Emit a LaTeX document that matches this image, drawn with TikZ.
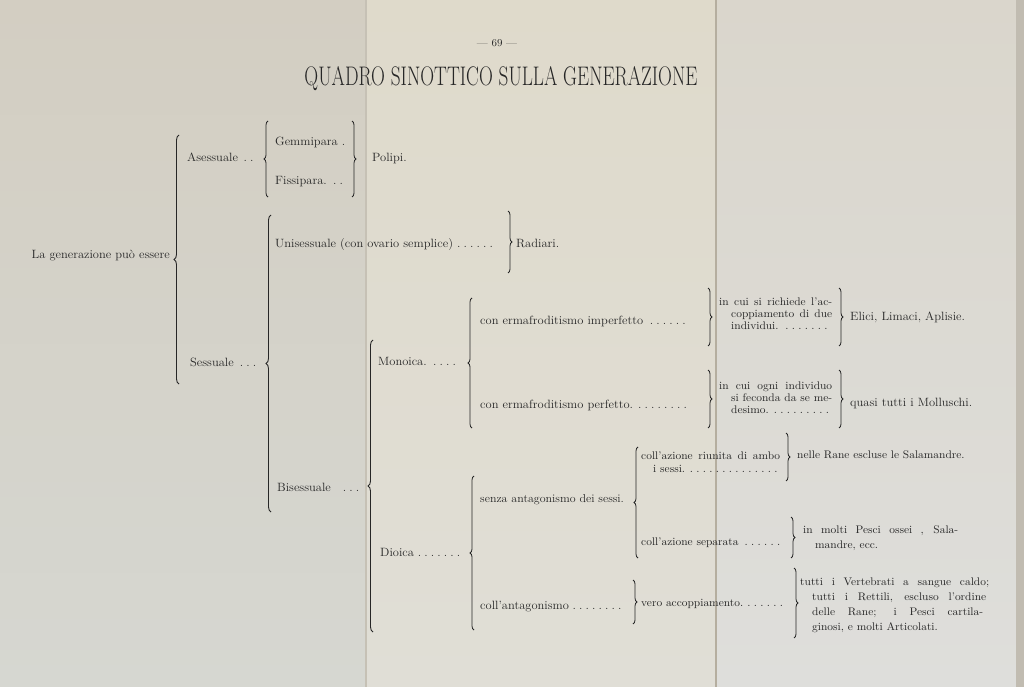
\documentclass[tikz,border=0pt]{standalone}
\usepackage{fontspec}
\setmainfont{Latin Modern Roman}[FakeStretch=1.04]
\usetikzlibrary{decorations.pathreplacing}
\definecolor{ink}{HTML}{262626}
\definecolor{pageLt}{HTML}{D3CEC2}
\definecolor{pageLb}{HTML}{D6D7D1}
\definecolor{pageMt}{HTML}{DFDACB}
\definecolor{pageMb}{HTML}{E0DED6}
\definecolor{pageRt}{HTML}{DAD6CC}
\definecolor{pageRb}{HTML}{DEDEDB}
\definecolor{foldc}{HTML}{B5AE9F}
\newcommand{\myldr}[2]{\makebox[#2][l]{#1\hskip 2pt\cleaders\hbox to 6.5pt{\hss.\hss}\hfill}}
\newcommand{\myjust}[2]{\makebox[#2][s]{#1}}
\tikzset{
  txt/.style={font=\fontsize{12}{14}\selectfont, text=ink, inner sep=0pt, anchor=base west},
  txte/.style={txt, anchor=base east},
  small/.style={font=\fontsize{11}{13}\selectfont, text=ink, inner sep=0pt, anchor=base west},
  br/.style={draw=ink, line width=0.8pt, decorate, decoration={brace, amplitude=4pt}},
  bigbr/.style={br, line width=0.9pt, decoration={brace, amplitude=5pt}},
}
\begin{document}
\begin{tikzpicture}[x=1pt,y=-1pt]
\useasboundingbox (0,0) rectangle (1024,687);
% paper
\shade[top color=pageLt, bottom color=pageLb] (0,0) rectangle (366,687);
\shade[top color=pageMt, bottom color=pageMb] (366,0) rectangle (716,687);
\shade[top color=pageRt, bottom color=pageRb] (716,0) rectangle (1024,687);
\draw[foldc!60!pageMb, line width=1.5pt] (366,0) -- (366,687);
\draw[foldc, line width=1.2pt] (716,0) -- (716,687);
\fill[foldc!70!pageRb] (1016,0) rectangle (1024,687);

% header
\node[font=\fontsize{10.5}{12}\selectfont, text=ink, inner sep=0pt, anchor=base] (pg) at (497,47) {— 69 —};
\node[text=ink, inner sep=0pt, anchor=base] (title) at (501,86)
  {\resizebox{393pt}{19pt}{\fontsize{20}{22}\selectfont QUADRO SINOTTICO SULLA GENERAZIONE}};

% level 0
\node[txte] (gen) at (170,258) {La generazione può essere};
% level 1
\node[txt] (ases) at (187,161) {\myldr{Asessuale}{70pt}};
\node[txt] (sess) at (190,366) {\myldr{Sessuale}{70pt}};
% asessuale
\node[txt] (gemm) at (275,146) {Gemmipara .};
\node[txt] (fiss) at (275,185) {\myldr{Fissipara.}{72pt}};
\node[txt] (poli) at (372,161) {Polipi.};
% sessuale
\node[txt] (unis) at (275,247) {\myldr{Unisessuale (con ovario semplice)}{220pt}};
\node[txt] (radi) at (516,247) {Radiari.};
\node[txt] (bise) at (277,491) {\myldr{Bisessuale\ \ }{84pt}};
\node[txt] (mono) at (378,365) {\myldr{Monoica.}{82pt}};
\node[txt] (dioi) at (380,556) {\myldr{Dioica}{82pt}};
% monoica
\node[txt] (imp) at (480,324) {\myldr{con ermafroditismo imperfetto}{210pt}};
\node[txt] (perf) at (480,408) {\myldr{con ermafroditismo perfetto.}{210pt}};
\node[small] (d1a) at (719,305) {\myjust{in cui si richiede l’ac-}{113pt}};
\node[small] (d1b) at (731,317) {\myjust{coppiamento di due}{101pt}};
\node[small] (d1c) at (731,329) {\myldr{individui.}{101pt}};
\node[txt] (elici) at (850,320) {Elici, Limaci, Aplisie.};
\node[small] (d2a) at (719,389) {\myjust{in cui ogni individuo}{113pt}};
\node[small] (d2b) at (731,401) {\myjust{si feconda da se me-}{101pt}};
\node[small] (d2c) at (731,413) {\myldr{desimo.}{101pt}};
\node[txt] (quasi) at (850,406) {quasi tutti i Molluschi.};
% dioica
\node[txt, font=\fontsize{11.5}{14}\selectfont] (senza) at (480,502) {senza antagonismo dei sessi.};
\node[txt] (colla) at (480,609) {\myldr{coll’antagonismo}{143pt}};
\node[small] (riua) at (641,459) {\myjust{coll’azione riunita di ambo}{139pt}};
\node[small] (riub) at (653,472) {\myldr{i sessi.}{127pt}};
\node[small] (rane) at (797,458) {nelle Rane escluse le Salamandre.};
\node[small] (sepa) at (641,545) {\myldr{coll’azione separata}{143pt}};
\node[small] (mola) at (803,533) {\myjust{in molti Pesci ossei , Sala-}{155pt}};
\node[small] (molb) at (815,548) {mandre, ecc.};
\node[small] (vero) at (641,606) {\myldr{vero accoppiamento.}{144pt}};
\node[small] (tua) at (800,585) {\myjust{tutti i Vertebrati a sangue caldo;}{189pt}};
\node[small] (tub) at (812,600) {\myjust{tutti i Rettili, escluso l’ordine}{174pt}};
\node[small] (tuc) at (812,615) {\myjust{delle Rane; i Pesci cartila-}{171pt}};
\node[small] (tud) at (812,630) {ginosi, e molti Articolati.};

% brace end points
\coordinate (b0t) at (179,135); \coordinate (b0b) at (179,384);
\coordinate (bat) at (268,121); \coordinate (bab) at (268,197);
\coordinate (bpt) at (352,121); \coordinate (bpb) at (352,197);
\coordinate (bst) at (271,215); \coordinate (bsb) at (271,512);
\coordinate (brt) at (508,211); \coordinate (brb) at (508,273);
\coordinate (bbt) at (373,340); \coordinate (bbb) at (373,632);
\coordinate (bmt) at (472,298); \coordinate (bmb) at (472,428);
\coordinate (bdt) at (474,476); \coordinate (bdb) at (474,630);
\coordinate (bg1t) at (708,288); \coordinate (bg1b) at (708,346);
\coordinate (be1t) at (839,288); \coordinate (be1b) at (839,346);
\coordinate (bg2t) at (708,370); \coordinate (bg2b) at (708,428);
\coordinate (be2t) at (839,370); \coordinate (be2b) at (839,428);
\coordinate (bit) at (638,447); \coordinate (bib) at (638,558);
\coordinate (bjt) at (786,433); \coordinate (bjb) at (786,481);
\coordinate (bkt) at (791,517); \coordinate (bkb) at (791,558);
\coordinate (blt) at (633,580); \coordinate (blb) at (633,624);
\coordinate (btt) at (794,568); \coordinate (btb) at (794,638);

% braces opening to the right (tip left)
\draw[bigbr] (b0b) -- (b0t);
\draw[br] (bab) -- (bat);
\draw[bigbr] (bsb) -- (bst);
\draw[bigbr] (bbb) -- (bbt);
\draw[br] (bmb) -- (bmt);
\draw[br] (bdb) -- (bdt);
\draw[br] (bib) -- (bit);
% braces closing (tip right)
\draw[br] (bpt) -- (bpb);
\draw[br] (brt) -- (brb);
\draw[br] (bg1t) -- (bg1b);
\draw[br] (be1t) -- (be1b);
\draw[br] (bg2t) -- (bg2b);
\draw[br] (be2t) -- (be2b);
\draw[br] (bjt) -- (bjb);
\draw[br] (bkt) -- (bkb);
\draw[br] (blt) -- (blb);
\draw[br] (btt) -- (btb);
\end{tikzpicture}
\end{document}
